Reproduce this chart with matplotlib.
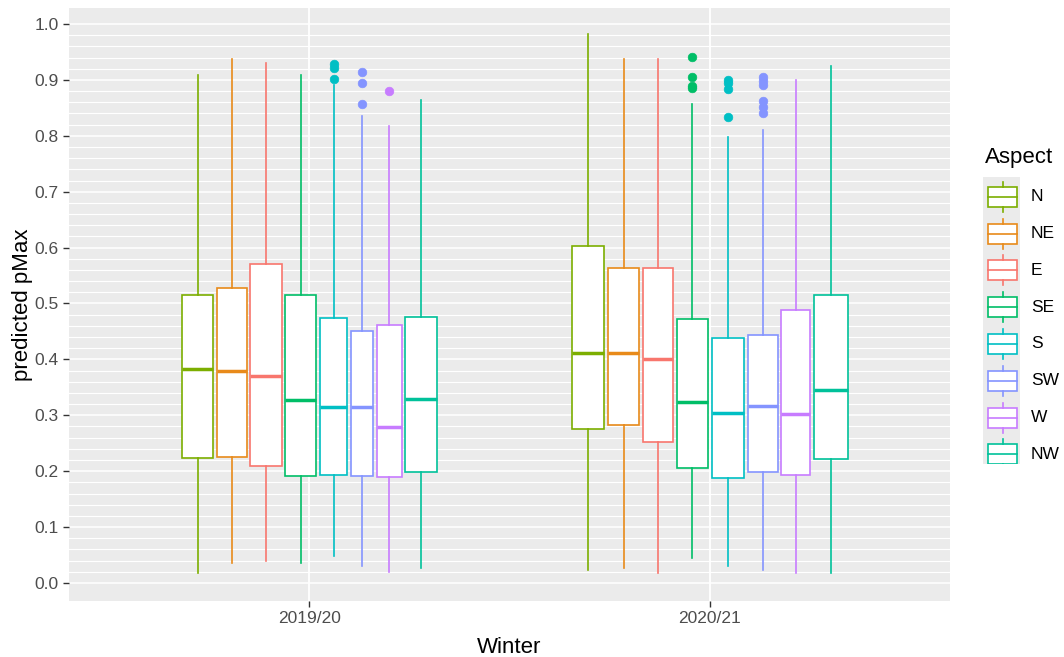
import matplotlib
matplotlib.use("Agg")
import matplotlib.pyplot as plt
from matplotlib.patches import Rectangle
from matplotlib.lines import Line2D

plt.rcParams["font.family"] = ["Liberation Sans", "DejaVu Sans"]

# ---- data -------------------------------------------------------------
winters = ["2019/20", "2020/21"]
aspects = ["N", "NE", "E", "SE", "S", "SW", "W", "NW"]

# five-number summaries: lower whisker, Q1, median, Q3, upper whisker
whislo_1920 = [0.017, 0.035, 0.039, 0.035, 0.048, 0.030, 0.019, 0.026]
q1_1920 = [0.223, 0.225, 0.209, 0.191, 0.194, 0.191, 0.189, 0.199]
med_1920 = [0.383, 0.379, 0.370, 0.327, 0.314, 0.314, 0.279, 0.330]
q3_1920 = [0.515, 0.528, 0.570, 0.515, 0.474, 0.450, 0.461, 0.476]
whishi_1920 = [0.908, 0.937, 0.930, 0.908, 0.890, 0.836, 0.818, 0.864]
out_1920 = [[], [], [], [], [0.928, 0.921, 0.902], [0.914, 0.894, 0.856],
            [0.880], []]

whislo_2021 = [0.023, 0.026, 0.017, 0.044, 0.030, 0.023, 0.017, 0.017]
q1_2021 = [0.276, 0.282, 0.252, 0.205, 0.187, 0.198, 0.194, 0.221]
med_2021 = [0.412, 0.412, 0.401, 0.323, 0.305, 0.316, 0.303, 0.345]
q3_2021 = [0.602, 0.564, 0.564, 0.472, 0.439, 0.443, 0.488, 0.515]
whishi_2021 = [0.982, 0.937, 0.937, 0.857, 0.797, 0.810, 0.899, 0.924]
out_2021 = [[], [], [], [0.941, 0.905, 0.889, 0.885],
            [0.900, 0.895, 0.884, 0.834],
            [0.906, 0.898, 0.891, 0.863, 0.852, 0.840], [], []]

# ---- styling ----------------------------------------------------------
colors = ["#7CAE00", "#E88A1A", "#F8766D", "#00BE67",
          "#00BFC4", "#8494FF", "#C77CFF", "#00C19A"]
# variable box widths (in x units, one group = 1)
box_w = {
    0: [0.078, 0.075, 0.078, 0.078, 0.068, 0.055, 0.063, 0.078],
    1: [0.081, 0.079, 0.075, 0.078, 0.081, 0.075, 0.073, 0.084],
}
gap = 0.009

W, H, DPI = 1064, 657, 100
fig = plt.figure(figsize=(W / DPI, H / DPI), dpi=DPI)
fig.patch.set_facecolor("white")

px_l, px_r, px_t, px_b = 69, 950, 8, 601
ax = fig.add_axes([px_l / W, 1 - px_b / H, (px_r - px_l) / W, (px_b - px_t) / H])
ax.set_facecolor("#EBEBEB")
ax.set_xlim(0.4, 2.6)
ax.set_ylim(-0.0322, 1.0286)

# grid: fine lines every 0.02, heavier every 0.1
for k in range(0, 51):
    yv = k * 0.02
    major = (k % 5 == 0)
    ax.axhline(yv, color="white", lw=1.1 if major else 0.8, zorder=0.5)
for xv in (1, 2):
    ax.axvline(xv, color="white", lw=1.3, zorder=0.5)

series = [
    (whislo_1920, q1_1920, med_1920, q3_1920, whishi_1920, out_1920),
    (whislo_2021, q1_2021, med_2021, q3_2021, whishi_2021, out_2021),
]

for gi, (lo, q1, md, q3, hi, outs) in enumerate(series):
    widths = box_w[gi]
    total = sum(widths) + gap * (len(widths) - 1)
    x = gi + 1 - total / 2
    for i, a in enumerate(aspects):
        pos = x + widths[i] / 2
        x += widths[i] + gap
        c = colors[i]
        stats = [dict(whislo=lo[i], q1=q1[i], med=md[i], q3=q3[i],
                      whishi=hi[i], fliers=outs[i], label=a)]
        ax.bxp(stats, positions=[pos], widths=[widths[i]], showcaps=False,
               patch_artist=True, manage_ticks=False,
               boxprops=dict(facecolor="white", edgecolor=c, lw=1.2),
               whiskerprops=dict(color=c, lw=1.2),
               medianprops=dict(color=c, lw=2.5, solid_capstyle="butt"),
               flierprops=dict(marker="o", markerfacecolor=c,
                               markeredgecolor=c, markersize=6.2,
                               markeredgewidth=0.5, linestyle="none"),
               zorder=2)

ax.set_xticks([1, 2])
ax.set_xticklabels(winters)
ax.set_yticks([i / 10 for i in range(11)])
ax.set_yticklabels([f"{i / 10:.1f}" for i in range(11)])
ax.tick_params(axis="both", colors="#333333", length=4.5, width=1.0,
               labelsize=12.5, labelcolor="#4D4D4D")
ax.tick_params(axis="y", pad=3)
ax.tick_params(axis="x", pad=3)
for sp in ax.spines.values():
    sp.set_visible(False)

ax.set_xlabel("Winter", fontsize=16, color="black", labelpad=7.5)
ax.set_ylabel("predicted pMax", fontsize=16, color="black", labelpad=1)

# ---- legend -----------------------------------------------------------
lg_l, lg_r, lg_t, lg_b = 983, 1020, 177, 464
lax = fig.add_axes([lg_l / W, 1 - lg_b / H, (lg_r - lg_l) / W, (lg_b - lg_t) / H])
lax.set_facecolor("#EBEBEB")
lax.set_xlim(lg_l, lg_r)
lax.set_ylim(lg_b, lg_t)
lax.axis("off")
lax.add_patch(Rectangle((lg_l, lg_t), lg_r - lg_l, lg_b - lg_t,
                        facecolor="#EBEBEB", edgecolor="none", zorder=0))
fig.text(985 / W, 1 - 158 / H, "Aspect", fontsize=16, ha="left", va="center")
step = 36.8
for i, a in enumerate(aspects):
    cy = 196.7 + i * step
    c = colors[i]
    lax.add_patch(Rectangle((988, cy - 10), 29, 20, facecolor="white",
                            edgecolor=c, lw=1.2, zorder=2))
    lax.add_line(Line2D([988, 1017], [cy, cy], color=c, lw=1.2, zorder=3))
    lax.add_line(Line2D([1002.5, 1002.5], [cy - 15, cy - 10], color=c, lw=1.2))
    lax.add_line(Line2D([1002.5, 1002.5], [cy + 10, cy + 15], color=c, lw=1.2))
    fig.text(1031 / W, 1 - cy / H, a, fontsize=12.5, ha="left", va="center",
             color="black")

fig.savefig("out.png", dpi=DPI)
